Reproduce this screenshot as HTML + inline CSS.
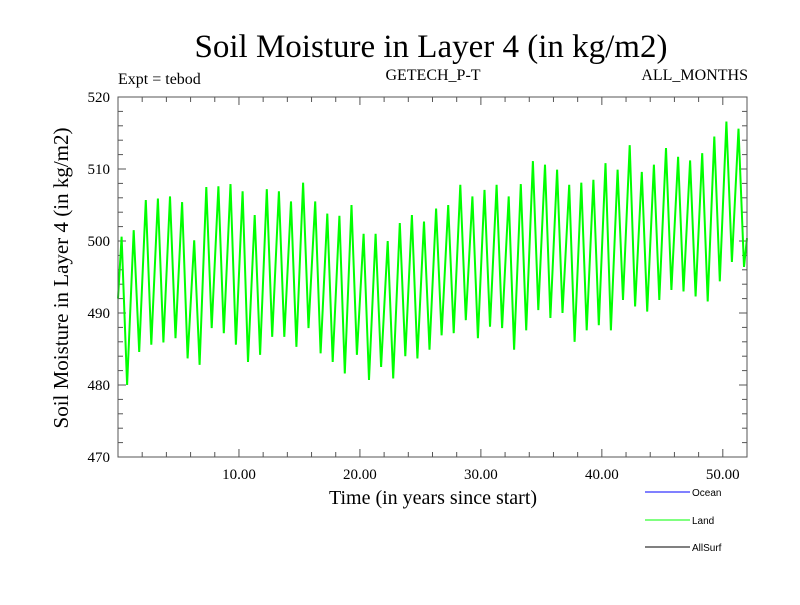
<!DOCTYPE html>
<html><head><meta charset="utf-8"><style>
body{margin:0;background:#fff;}
svg text{font-family:"Liberation Serif",serif;fill:#000;}
</style></head><body>
<svg id="c" width="800" height="600">
<text x="431" y="57" font-size="33" text-anchor="middle">Soil Moisture in Layer 4 (in kg/m2)</text>
<text x="118" y="84" font-size="16">Expt = tebod</text>
<text x="433" y="80" font-size="16" text-anchor="middle">GETECH_P-T</text>
<text x="748" y="80" font-size="16" text-anchor="end">ALL_MONTHS</text>
<text transform="translate(68,278) rotate(-90)" font-size="21" text-anchor="middle">Soil Moisture in Layer 4 (in kg/m2)</text>
<text x="433" y="504" font-size="20" text-anchor="middle">Time (in years since start)</text>
<g id="axes"></g>
<g id="series"></g>
<rect x="118" y="97" width="629" height="360" fill="none" stroke="#555" stroke-width="1"/>
<g>
<line x1="645" y1="492" x2="690" y2="492" stroke="#0000ff" shape-rendering="crispEdges"/>
<text x="692" y="496" font-size="10" style="font-family:'Liberation Sans',sans-serif">Ocean</text>
<line x1="645" y1="520" x2="690" y2="520" stroke="#00ff00" shape-rendering="crispEdges"/>
<text x="692" y="524" font-size="10" style="font-family:'Liberation Sans',sans-serif">Land</text>
<line x1="645" y1="547" x2="690" y2="547" stroke="#000" shape-rendering="crispEdges"/>
<text x="692" y="551" font-size="10" style="font-family:'Liberation Sans',sans-serif">AllSurf</text>
</g>
</svg>
<script>
const yTicks=[470,480,490,500,510,520];
const xTicks=[10,20,30,40,50];
const xTickLabels=["10.00","20.00","30.00","40.00","50.00"];
const startValue=492;
const peaks=[500.6,501.5,505.7,505.9,506.2,505.4,500.1,507.5,507.6,507.9,506.9,503.6,507.2,506.9,505.5,508.1,505.5,503.8,503.5,505,501,501,500,502.5,503.6,502.7,
504.5,505,507.8,506.2,507.1,507.8,506.2,507.9,511.1,510.6,509.9,507.8,508.1,508.5,510.8,509.9,513.3,509.6,510.6,512.9,511.7,511.2,512.2,514.5,516.6,515.6];
const troughs=[480,484.6,485.6,485.9,486.5,483.7,482.8,487.9,487.2,485.6,483.2,484.2,486.7,486.7,485.3,487.9,484.4,483.2,481.6,484.2,480.7,482.5,480.9,484,483.7,484.9,
486.9,487.2,489,486.5,488.1,487.9,484.9,487.6,490.4,489.3,490,486,487.6,488.3,487.6,491.8,490.9,490.2,491.8,493.2,493,492.3,491.6,494.4,497.1,496.4];
const X=t=>118+t*(629/52), Y=v=>457-(v-470)*7.2;
const NS="http://www.w3.org/2000/svg";
const ax=document.getElementById('axes');
function ln(x1,y1,x2,y2,name){const l=document.createElementNS(NS,'line');
l.setAttribute('x1',x1);l.setAttribute('y1',y1);l.setAttribute('x2',x2);l.setAttribute('y2',y2);
l.setAttribute('stroke','#555');


ax.appendChild(l);}
function tx(x,y,s,anchor,name){const t=document.createElementNS(NS,'text');
t.setAttribute('x',x);t.setAttribute('y',y);t.setAttribute('font-size','15');t.setAttribute('text-anchor',anchor);t.textContent=s;


ax.appendChild(t);}
for(let v=470;v<=520;v+=2){const m=(v%10===0)?8:5;ln(118,Y(v),118+m,Y(v),'y-tick');ln(747,Y(v),747-m,Y(v),'y-tick');}
yTicks.forEach(v=>tx(110,Y(v)+5,String(v),'end','y-tick-label'));
for(let t=2;t<52;t+=2){const m=(t%10===0)?8:5;ln(X(t),457,X(t),457-m,'x-tick');ln(X(t),97,X(t),97+m,'x-tick');}
xTicks.forEach((t,i)=>tx(X(t),479,xTickLabels[i],'middle','x-tick-label'));
let pts=[[0,startValue]];
for(let i=0;i<peaks.length;i++){pts.push([i+0.3,peaks[i]]);pts.push([i+0.75,troughs[i]]);}
pts.push([52,troughs[troughs.length-1]+4]);
const pl=document.createElementNS(NS,'polyline');
pl.setAttribute('points',pts.map(p=>X(p[0]).toFixed(1)+','+Y(p[1]).toFixed(1)).join(' '));
pl.setAttribute('fill','none');pl.setAttribute('stroke','#00ff00');pl.setAttribute('stroke-width','2');


document.getElementById('series').appendChild(pl);
</script>
</body></html>
